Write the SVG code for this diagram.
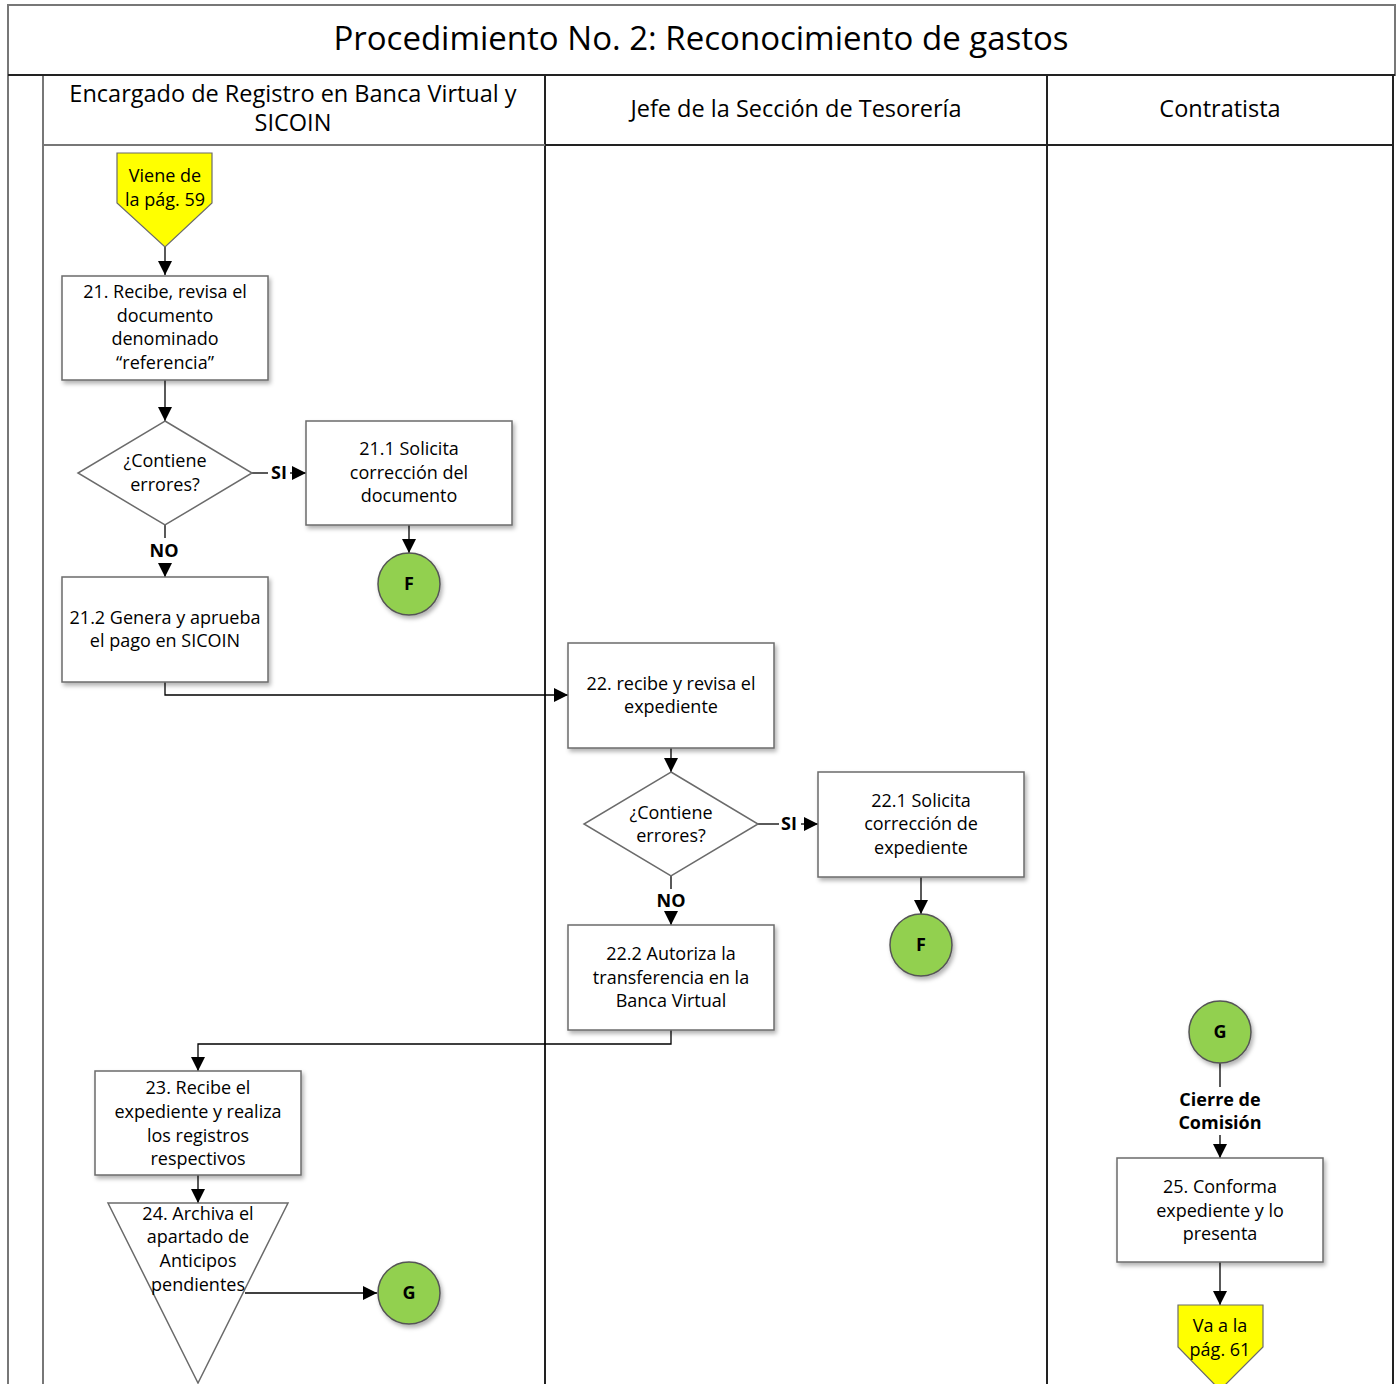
<svg xmlns="http://www.w3.org/2000/svg" width="1400" height="1384" viewBox="0 0 1400 1384">
<style>
text{font-family:"Open Sans","Noto Sans","Liberation Sans",sans-serif;fill:#000;text-anchor:middle}
.t{font-size:18px}
.h{font-size:23.5px}
.b{font-size:18px;font-weight:bold}
.box{fill:#fff;stroke:#6b6b6b;stroke-width:1.5;filter:url(#sh)}
.dec{fill:#fff;stroke:#6b6b6b;stroke-width:1.5}
.opc{fill:#ffff00;stroke:#6b6b6b;stroke-width:1.2}
.circ{fill:#92d050;stroke:#555;stroke-width:1.5;filter:url(#sh)}
.c{fill:none;stroke:#000;stroke-width:1.3}
.lane{stroke:#222;stroke-width:2}
.lg{stroke:#777;stroke-width:2}
</style>
<defs>
<marker id="ar" viewBox="0 0 10 10" refX="10" refY="5" markerWidth="14" markerHeight="14" markerUnits="userSpaceOnUse" orient="auto"><path d="M0,0 L10,5 L0,10 z" fill="#000"/></marker>
<filter id="sh" x="-10%" y="-10%" width="130%" height="130%"><feDropShadow dx="2" dy="3" stdDeviation="2" flood-color="#000" flood-opacity="0.3"/></filter>
</defs>
<rect width="1400" height="1384" fill="#fff"/>
<g id="frame">
<rect x="8" y="5" width="1387" height="70" fill="#fff" stroke="#777" stroke-width="2"/>
<line x1="8" y1="75" x2="8" y2="1384" class="lg"/>
<line x1="43" y1="75" x2="43" y2="1384" class="lg"/>
<line x1="545" y1="75" x2="545" y2="1384" class="lane"/>
<line x1="1047" y1="75" x2="1047" y2="1384" class="lane"/>
<line x1="1393" y1="75" x2="1393" y2="1384" class="lane"/>
<line x1="8" y1="75" x2="1395" y2="75" class="lane"/>
<line x1="43" y1="145" x2="545" y2="145" class="lg"/>
<line x1="545" y1="145" x2="1393" y2="145" class="lane"/>
<text x="701" y="50" style="font-size:33px">Procedimiento No. 2: Reconocimiento de gastos</text>
<text x="293" y="102" class="h">Encargado de Registro en Banca Virtual y</text>
<text x="293" y="131" class="h">SICOIN</text>
<text x="796" y="117" class="h">Jefe de la Sección de Tesorería</text>
<text x="1220" y="117" class="h">Contratista</text>
</g>
<g id="connectors">
<line x1="165" y1="247" x2="165" y2="275" class="c" marker-end="url(#ar)"/>
<line x1="165" y1="380" x2="165" y2="421" class="c" marker-end="url(#ar)"/>
<line x1="252" y1="473" x2="268" y2="473" class="c"/>
<text x="279" y="479" class="b">SI</text>
<line x1="290" y1="473" x2="306" y2="473" class="c" marker-end="url(#ar)"/>
<line x1="409" y1="525" x2="409" y2="553" class="c" marker-end="url(#ar)"/>
<line x1="165" y1="525" x2="165" y2="538" class="c"/>
<text x="164" y="557" class="b">NO</text>
<line x1="165" y1="563" x2="165" y2="577" class="c" marker-end="url(#ar)"/>
<polyline points="165,682 165,695 568,695" class="c" marker-end="url(#ar)"/>
<line x1="671" y1="748" x2="671" y2="772" class="c" marker-end="url(#ar)"/>
<line x1="758" y1="824" x2="779" y2="824" class="c"/>
<text x="789" y="830" class="b">SI</text>
<line x1="801" y1="824" x2="818" y2="824" class="c" marker-end="url(#ar)"/>
<line x1="921" y1="877" x2="921" y2="914" class="c" marker-end="url(#ar)"/>
<line x1="671" y1="876" x2="671" y2="889" class="c"/>
<text x="671" y="907" class="b">NO</text>
<line x1="671" y1="912" x2="671" y2="925" class="c" marker-end="url(#ar)"/>
<polyline points="671,1030 671,1044 198,1044 198,1071" class="c" marker-end="url(#ar)"/>
<line x1="198" y1="1175" x2="198" y2="1203" class="c" marker-end="url(#ar)"/>
<line x1="245" y1="1293" x2="377" y2="1293" class="c" marker-end="url(#ar)"/>
<line x1="1220" y1="1063" x2="1220" y2="1087" class="c"/>
<text x="1220" y="1106" class="b">Cierre de</text>
<text x="1220" y="1129" class="b">Comisión</text>
<line x1="1220" y1="1135" x2="1220" y2="1158" class="c" marker-end="url(#ar)"/>
<line x1="1220" y1="1262" x2="1220" y2="1305" class="c" marker-end="url(#ar)"/>
</g>
<g id="n_viene">
<polygon points="117,153 212,153 212,203 165,247 117,203" class="opc"/>
<text x="165" y="182" class="t">Viene de</text>
<text x="165" y="206" class="t">la pág. 59</text>
</g>
<g id="n21">
<rect x="62" y="276" width="206" height="104" class="box"/>
<text x="165" y="298" class="t">21. Recibe, revisa el</text>
<text x="165" y="322" class="t">documento</text>
<text x="165" y="345" class="t">denominado</text>
<text x="165" y="369" class="t">“referencia”</text>
</g>
<g id="d1">
<polygon points="165,421 252,473 165,525 78,473" class="dec"/>
<text x="165" y="467" class="t">¿Contiene</text>
<text x="165" y="491" class="t">errores?</text>
</g>
<g id="n21_1">
<rect x="306" y="421" width="206" height="104" class="box"/>
<text x="409" y="455" class="t">21.1 Solicita</text>
<text x="409" y="479" class="t">corrección del</text>
<text x="409" y="502" class="t">documento</text>
</g>
<g id="f1">
<circle cx="409" cy="584" r="31" class="circ"/>
<text x="409" y="590" class="b">F</text>
</g>
<g id="n21_2">
<rect x="62" y="577" width="206" height="105" class="box"/>
<text x="165" y="624" class="t">21.2 Genera y aprueba</text>
<text x="165" y="647" class="t">el pago en SICOIN</text>
</g>
<g id="n22">
<rect x="568" y="643" width="206" height="105" class="box"/>
<text x="671" y="690" class="t">22. recibe y revisa el</text>
<text x="671" y="713" class="t">expediente</text>
</g>
<g id="d2">
<polygon points="671,772 758,824 671,876 584,824" class="dec"/>
<text x="671" y="819" class="t">¿Contiene</text>
<text x="671" y="842" class="t">errores?</text>
</g>
<g id="n22_1">
<rect x="818" y="772" width="206" height="105" class="box"/>
<text x="921" y="807" class="t">22.1 Solicita</text>
<text x="921" y="830" class="t">corrección de</text>
<text x="921" y="854" class="t">expediente</text>
</g>
<g id="f2">
<circle cx="921" cy="945" r="31" class="circ"/>
<text x="921" y="951" class="b">F</text>
</g>
<g id="n22_2">
<rect x="568" y="925" width="206" height="105" class="box"/>
<text x="671" y="960" class="t">22.2 Autoriza la</text>
<text x="671" y="984" class="t">transferencia en la</text>
<text x="671" y="1007" class="t">Banca Virtual</text>
</g>
<g id="n23">
<rect x="95" y="1071" width="206" height="104" class="box"/>
<text x="198" y="1094" class="t">23. Recibe el</text>
<text x="198" y="1118" class="t">expediente y realiza</text>
<text x="198" y="1142" class="t">los registros</text>
<text x="198" y="1165" class="t">respectivos</text>
</g>
<g id="n24">
<polygon points="108,1203 288,1203 198,1383" class="dec"/>
<text x="198" y="1220" class="t">24. Archiva el</text>
<text x="198" y="1243" class="t">apartado de</text>
<text x="198" y="1267" class="t">Anticipos</text>
<text x="198" y="1291" class="t">pendientes</text>
</g>
<g id="g1">
<circle cx="409" cy="1293" r="31" class="circ"/>
<text x="409" y="1299" class="b">G</text>
</g>
<g id="g2">
<circle cx="1220" cy="1032" r="31" class="circ"/>
<text x="1220" y="1038" class="b">G</text>
</g>
<g id="n25">
<rect x="1117" y="1158" width="206" height="104" class="box"/>
<text x="1220" y="1193" class="t">25. Conforma</text>
<text x="1220" y="1217" class="t">expediente y lo</text>
<text x="1220" y="1240" class="t">presenta</text>
</g>
<g id="n_va">
<polygon points="1178,1305 1263,1305 1263,1347 1220,1390 1178,1347" class="opc"/>
<text x="1220" y="1332" class="t">Va a la</text>
<text x="1220" y="1356" class="t">pág. 61</text>
</g>
</svg>
